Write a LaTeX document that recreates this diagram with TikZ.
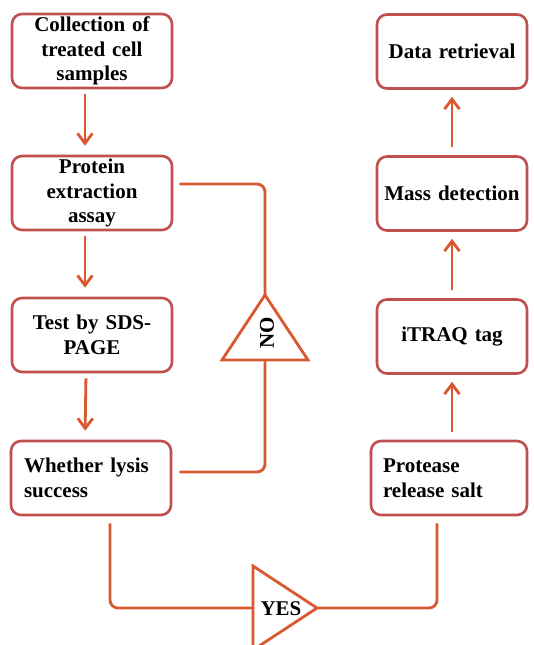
\documentclass[tikz,border=0pt]{standalone}
\usepackage{fontspec}
\setmainfont{Liberation Serif}
\usetikzlibrary{arrows.meta}
\definecolor{boxc}{RGB}{192,80,77}
\definecolor{connc}{RGB}{218,88,48}
\begin{document}
\begin{tikzpicture}[x=1pt,y=-1pt,
  box/.style={draw=boxc, line width=2.6pt, rounded corners=10pt, minimum height=74pt,
    inner xsep=3pt, inner ysep=0pt, font=\fontsize{21}{24.5}\selectfont\bfseries, text=black},
  lbox/.style={box, text width=154pt, align=center},
  rbox/.style={box, text width=144pt, align=center},
  arr/.style={draw=connc, line width=2.8pt, -{Straight Barb[length=10pt,width=15pt]}},
  conn/.style={draw=connc, line width=2.8pt, rounded corners=8pt},
  tri/.style={draw=connc, line width=2.8pt, line join=miter, fill=white},
  lab/.style={font=\fontsize{21}{24}\selectfont\bfseries, text=black, inner sep=0pt}]
\clip (0,0) rectangle (533,645);
\useasboundingbox (0,0) rectangle (533,645);
\fill[white] (0,0) rectangle (533,645);
% left column
\node[lbox] (b1) at (92,51) {Collection of\\treated cell\\samples};
\node[lbox] (b2) at (92,193) {Protein\\extraction\\assay};
\node[lbox] (b3) at (92,335) {Test by SDS-\\PAGE};
\node[box, inner xsep=13pt, text width=134pt, align=left] (b4) at (91,478) {Whether lysis\\success};
% right column
\node[rbox] (r1) at (452,51.5) {Data retrieval};
\node[rbox] (r2) at (452,193.5) {Mass detection};
\node[rbox] (r3) at (452,336.5) {iTRAQ tag};
\node[box, inner xsep=12pt, text width=132pt, align=left] (r4) at (449,478) {Protease\\release salt};
% arrows
\draw[arr, shorten <=5pt, shorten >=9pt] ([xshift=-7pt]b1.south) -- ([xshift=-7pt]b2.north);
\draw[arr, shorten <=5pt, shorten >=9pt] ([xshift=-7pt]b2.south) -- ([xshift=-7pt]b3.north);
\draw[arr, shorten <=5pt, shorten >=9pt] ([xshift=-6pt]b3.south) -- ([xshift=-6pt]b4.north);
\draw[arr, shorten <=8pt, shorten >=7pt] ([xshift=3pt]r4.north) -- ([xshift=0pt]r3.south);
\draw[arr, shorten <=8pt, shorten >=7pt] (r3.north) -- (r2.south);
\draw[arr, shorten <=8pt, shorten >=7pt] (r2.north) -- (r1.south);
% NO triangle
\coordinate (noT) at (265,295);
\coordinate (noL) at (222,360);
\coordinate (noR) at (308,360);
\coordinate (noB) at (265,360);
\draw[tri] (noT) -- (noR) -- (noL) -- cycle;
\node[lab, rotate=90] (no) at (267,333) {NO};
\draw[conn] ([xshift=6pt,yshift=9pt]b2.east) -| (noT);
\draw[conn] (noB) |- ([xshift=7pt,yshift=6pt]b4.east);
% YES triangle
\coordinate (yesT) at (253,566);
\coordinate (yesBt) at (253,650);
\coordinate (yesL) at (253,608);
\coordinate (yesA) at (317,608);
\draw[tri] (yesT) -- (yesA) -- (yesBt) -- cycle;
\node[lab] (yes) at (281,609) {YES};
\draw[conn] ([xshift=19pt,yshift=-7pt]b4.south) |- (yesL);
\draw[conn] (yesA) -| ([xshift=-12pt,yshift=-7pt]r4.south);
\end{tikzpicture}
\end{document}
